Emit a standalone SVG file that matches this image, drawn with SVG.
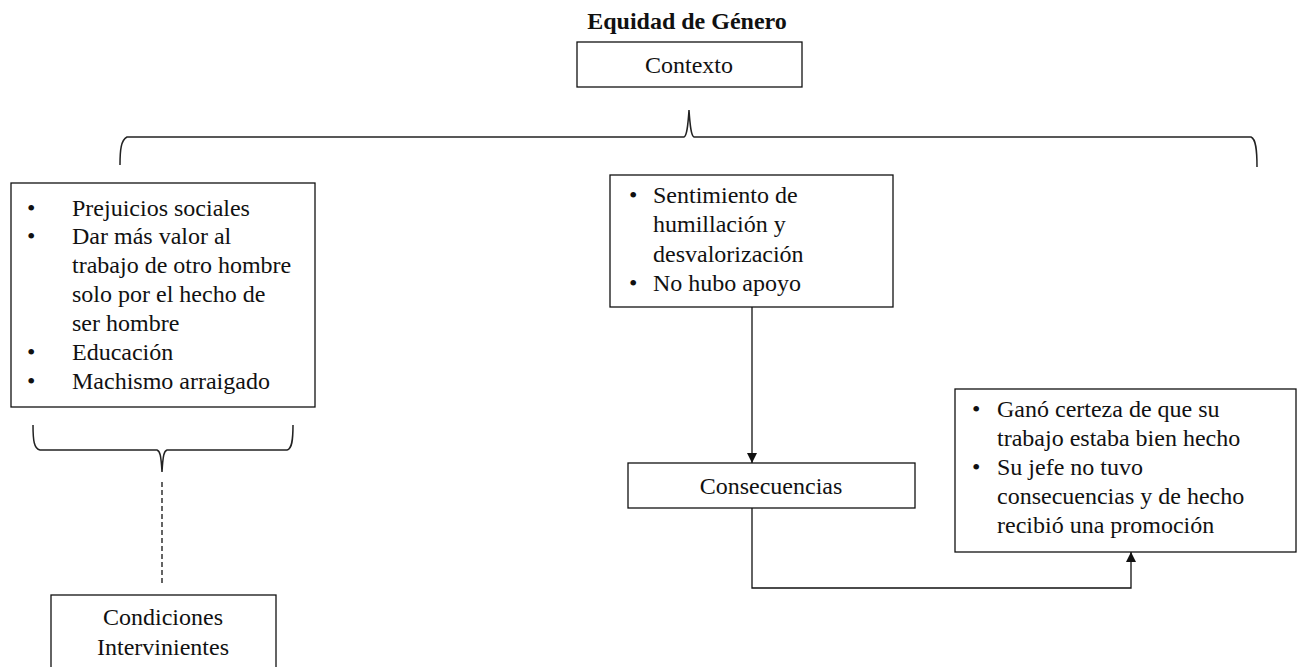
<svg xmlns="http://www.w3.org/2000/svg" width="1307" height="667" viewBox="0 0 1307 667">
  <defs>
    <style>
      .box { fill: #ffffff; stroke: #111; stroke-width: 1.3; }
      .t { font-family: "Liberation Serif", "Times New Roman", serif; font-size: 24px; fill: #111; }
      .title { font-family: "Liberation Serif", "Times New Roman", serif; font-size: 24px; font-weight: bold; fill: #111; }
      .mid { text-anchor: middle; }
      .line { fill: none; stroke: #111; stroke-width: 1.3; }
      .brace { fill: none; stroke: #222; stroke-width: 1.5; }
      .dash { fill: none; stroke: #111; stroke-width: 1.3; stroke-dasharray: 5 3; }
    </style>
    <marker id="arrow" viewBox="0 0 10 10" refX="10" refY="5" markerWidth="10" markerHeight="10" markerUnits="userSpaceOnUse" orient="auto">
      <path d="M0,0 L10,5 L0,10 Z" fill="#111"/>
    </marker>
  </defs>

  <rect width="1307" height="667" fill="#ffffff"/>

  <text class="title mid" x="687" y="29">Equidad de Género</text>

  <g id="contexto">
    <rect class="box" x="577" y="42" width="225" height="45"/>
    <text class="t mid" x="689" y="73">Contexto</text>
  </g>

  <!-- braces -->
  <g id="braces">
    <path class="brace" d="M120,165 C120,150 121,140 127,137 L684,137 C687,136 688,125 689,110 C690,125 691,136 694,137 L1251,137 C1256,139 1257,150 1257,167"/>
    <path class="brace" d="M33,425 C33,440 34,449 40,450 L157,450 C160,451 161,455 162,472 C163,455 164,451 167,450 L287,450 C292,449 293,440 293,425"/>
  </g>

  <g id="causas">
    <rect class="box" x="11" y="183" width="304" height="224"/>
    <text class="t" x="27" y="215.5">•</text>
    <text class="t" x="72" y="215.5">Prejuicios sociales</text>
    <text class="t" x="27" y="244.4">•</text>
    <text class="t" x="72" y="244.4">Dar más valor al</text>
    <text class="t" x="72" y="273.3">trabajo de otro hombre</text>
    <text class="t" x="72" y="302.2">solo por el hecho de</text>
    <text class="t" x="72" y="331.1">ser hombre</text>
    <text class="t" x="27" y="360">•</text>
    <text class="t" x="72" y="360">Educación</text>
    <text class="t" x="27" y="389">•</text>
    <text class="t" x="72" y="389">Machismo arraigado</text>
  </g>

  <g id="sentimientos">
    <rect class="box" x="610" y="175" width="283" height="132"/>
    <text class="t" x="629" y="202.5">•</text>
    <text class="t" x="653" y="202.5">Sentimiento de</text>
    <text class="t" x="653" y="232">humillación y</text>
    <text class="t" x="653" y="261.5">desvalorización</text>
    <text class="t" x="629" y="291">•</text>
    <text class="t" x="653" y="291">No hubo apoyo</text>
  </g>

  <g id="consecuencias">
    <rect class="box" x="628" y="463" width="287" height="45"/>
    <text class="t mid" x="771" y="494">Consecuencias</text>
  </g>

  <g id="resultados">
    <rect class="box" x="955" y="389" width="341" height="163"/>
    <text class="t" x="972" y="417">•</text>
    <text class="t" x="997" y="417">Ganó certeza de que su</text>
    <text class="t" x="997" y="446">trabajo estaba bien hecho</text>
    <text class="t" x="972" y="475">•</text>
    <text class="t" x="997" y="475">Su jefe no tuvo</text>
    <text class="t" x="997" y="504">consecuencias y de hecho</text>
    <text class="t" x="997" y="533">recibió una promoción</text>
  </g>

  <g id="condiciones">
    <rect class="box" x="51" y="595" width="225" height="90"/>
    <text class="t mid" x="163" y="625">Condiciones</text>
    <text class="t mid" x="163" y="655">Intervinientes</text>
  </g>

  <g id="connectors">
    <path class="line" d="M752,307 L752,463" marker-end="url(#arrow)"/>
    <path class="line" d="M752,508 L752,588 L1131,588 L1131,552" marker-end="url(#arrow)"/>
    <path class="dash" d="M162,482 L162,583"/>
  </g>
</svg>
